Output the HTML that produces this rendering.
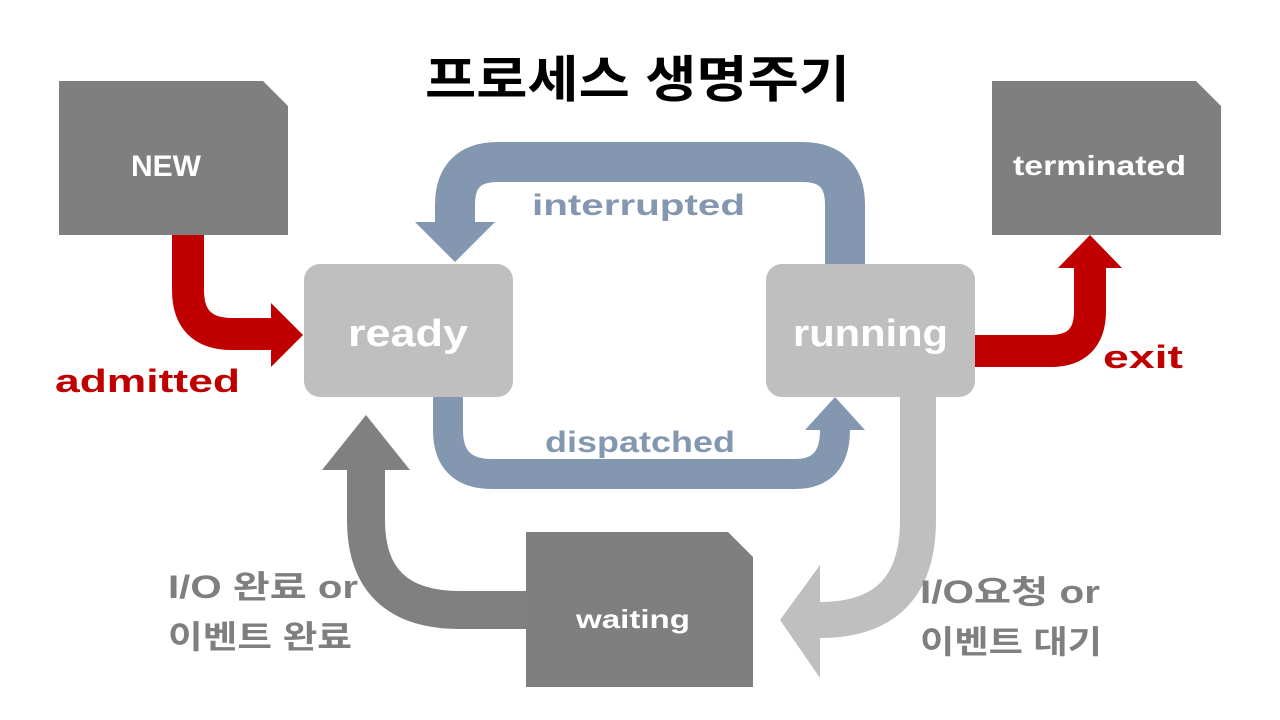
<!DOCTYPE html>
<html><head><meta charset="utf-8"><style>
html,body{margin:0;padding:0;background:#fff;}
svg{display:block;}
text{font-family:"Liberation Sans","Noto Sans CJK KR",sans-serif;font-weight:bold;}
</style></head><body>
<svg width="1280" height="720" viewBox="0 0 1280 720" xmlns="http://www.w3.org/2000/svg">
<rect width="1280" height="720" fill="#fff"/>
<text x="425" y="97" font-size="50" textLength="425" lengthAdjust="spacingAndGlyphs" fill="#000">프로세스 생명주기</text>

<path d="M845 264 V205 Q845 162 802 162 H498 Q455 162 455 205 V224" fill="none" stroke="#8497b0" stroke-width="40"/>
<polygon points="415,222 495,222 455,262" fill="#8497b0"/>
<path d="M448 397 V430 Q448 474 492 474 H795 Q835 474 835 430 V425" fill="none" stroke="#8497b0" stroke-width="30"/>
<polygon points="805,430 865,430 835,397" fill="#8497b0"/>

<path d="M188 235 V290 Q188 334 232 334 H275" fill="none" stroke="#c00000" stroke-width="32"/>
<polygon points="271,303 303,335 271,367" fill="#c00000"/>
<path d="M975 351 H1050 Q1090 351 1090 311 V265" fill="none" stroke="#c00000" stroke-width="32"/>
<polygon points="1058,268 1122,268 1090,235" fill="#c00000"/>

<path d="M918 397 V520 Q918 620 820 620 H815" fill="none" stroke="#bfbfbf" stroke-width="36"/>
<polygon points="820,565 820,678 780,620" fill="#bfbfbf"/>
<path d="M526 610 H460 Q366 610 366 520 V465" fill="none" stroke="#808080" stroke-width="38"/>
<polygon points="322,470 410,470 366,415" fill="#808080"/>

<polygon points="59,81 263,81 288,106 288,235 59,235" fill="#7f7f7f"/>
<text x="131" y="176" font-size="30" textLength="70" lengthAdjust="spacingAndGlyphs" fill="#fff">NEW</text>
<polygon points="992,81 1196,81 1221,106 1221,235 992,235" fill="#7f7f7f"/>
<text x="1013" y="175" font-size="28" textLength="173" lengthAdjust="spacingAndGlyphs" fill="#fff">terminated</text>
<rect x="304" y="264" width="209" height="133" rx="16" fill="#bfbfbf"/>
<text x="348" y="346" font-size="38" textLength="120" lengthAdjust="spacingAndGlyphs" fill="#fff">ready</text>
<rect x="766" y="264" width="209" height="133" rx="16" fill="#bfbfbf"/>
<text x="793" y="346" font-size="38" textLength="155" lengthAdjust="spacingAndGlyphs" fill="#fff">running</text>
<polygon points="526,532 728,532 753,557 753,687 526,687" fill="#7f7f7f"/>
<text x="576" y="628" font-size="26" textLength="114" lengthAdjust="spacingAndGlyphs" fill="#fff">waiting</text>

<text x="55" y="392" font-size="32" textLength="185" lengthAdjust="spacingAndGlyphs" fill="#c00000">admitted</text>
<text x="1103" y="368" font-size="32" textLength="80" lengthAdjust="spacingAndGlyphs" fill="#c00000">exit</text>
<text x="532" y="215" font-size="30" textLength="213" lengthAdjust="spacingAndGlyphs" fill="#8497b0">interrupted</text>
<text x="545" y="452" font-size="30" textLength="190" lengthAdjust="spacingAndGlyphs" fill="#8497b0">dispatched</text>
<text x="168" y="598" font-size="32" textLength="190" lengthAdjust="spacingAndGlyphs" fill="#7f7f7f">I/O 완료 or</text>
<text x="168" y="648" font-size="32" textLength="184" lengthAdjust="spacingAndGlyphs" fill="#7f7f7f">이벤트 완료</text>
<text x="920" y="603" font-size="32" textLength="180" lengthAdjust="spacingAndGlyphs" fill="#7f7f7f">I/O요청 or</text>
<text x="920" y="653" font-size="32" textLength="182" lengthAdjust="spacingAndGlyphs" fill="#7f7f7f">이벤트 대기</text>
</svg>
</body></html>
